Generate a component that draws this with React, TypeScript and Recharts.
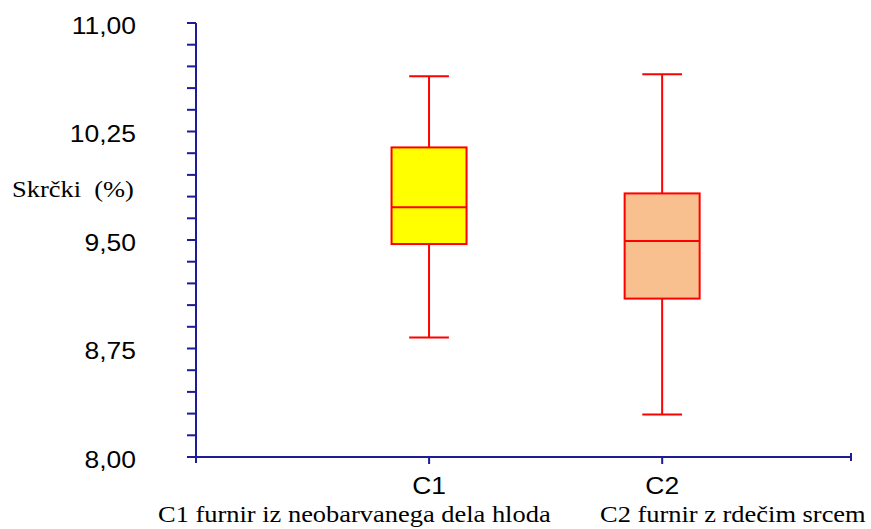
import React from 'react';
import { ComposedChart, Bar, XAxis, YAxis, Label } from 'recharts';

// ---- data ----
const categories = ['C1', 'C2'];
const positions = [1, 2];
const whiskerLow = [8.826, 8.294];
const quartile1 = [9.472, 9.095];
const medians = [9.726, 9.493];
const quartile3 = [10.14, 9.822];
const whiskerHigh = [10.632, 10.646];
const boxFills = ['#FFFF00', '#F8BF8F'];

const yTicks = [8, 8.15, 8.3, 8.45, 8.6, 8.75, 8.9, 9.05, 9.2, 9.35, 9.5, 9.65, 9.8, 9.95, 10.1, 10.25, 10.4, 10.55, 10.7, 10.85, 11];
const yLabelTicks = [8, 8.75, 9.5, 10.25, 11];
const xDomainEnd = 2.81;
const xTicks = [0, 1, 2, xDomainEnd];
const yAxisTitle = 'Skrčki  (%)';
const captions = ['C1 furnir iz neobarvanega dela hloda', 'C2 furnir z rdečim srcem'];

const data = categories.map((name, i) => ({
  name,
  pos: positions[i],
  low: whiskerLow[i],
  q1: quartile1[i],
  median: medians[i],
  q3: quartile3[i],
  high: whiskerHigh[i],
  fill: boxFills[i],
}));

// ---- styles ----
const NAVY = '#1c1c96';
const RED = '#FF0000';
const SANS = '"Liberation Sans", Arial, Helvetica, sans-serif';
const SERIF = '"Liberation Serif", "Times New Roman", serif';
const FS = 23;
const SX = 1.15;

const BoxShape = (props: any) => {
  const { x, y, width, height, payload } = props;
  const lo = payload.low;
  const hi = payload.high;
  const py = (v: number) => y + (height * (hi - v)) / (hi - lo);
  const cx = x + width / 2;
  const cap = width * 0.53;
  const top = py(payload.q3);
  const bot = py(payload.q1);
  const med = py(payload.median);
  return (
    <g>
      <line x1={cx} x2={cx} y1={py(hi)} y2={top} stroke={RED} strokeWidth={2} />
      <line x1={cx} x2={cx} y1={bot} y2={py(lo)} stroke={RED} strokeWidth={2} />
      <line x1={cx - cap / 2} x2={cx + cap / 2} y1={py(hi)} y2={py(hi)} stroke={RED} strokeWidth={2} />
      <line x1={cx - cap / 2} x2={cx + cap / 2} y1={py(lo)} y2={py(lo)} stroke={RED} strokeWidth={2} />
      <rect x={x} y={top} width={width} height={bot - top} fill={payload.fill} stroke={RED} strokeWidth={2} />
      <line x1={x} x2={x + width} y1={med} y2={med} stroke={RED} strokeWidth={2} />
    </g>
  );
};

const fmt = (v: number) => v.toFixed(2).replace('.', ',');

const YTick = (props: any) => {
  const { x, y, payload } = props;
  const v = payload.value;
  const show = yLabelTicks.some((t) => Math.abs(t - v) < 1e-6);
  if (!show) return <g />;
  return (
    <g transform={`translate(${x},${y + 10.5}) scale(${SX},1)`}>
      <text x={0} y={0} textAnchor="end" fontFamily={SANS} fontSize={FS} fill="#000">
        {fmt(v)}
      </text>
    </g>
  );
};

const XTick = (props: any) => {
  const { x, y, payload } = props;
  const v = payload.value;
  const idx = positions.indexOf(v);
  if (v === 0) {
    return <line x1={x} x2={x} y1={y} y2={y + 6} stroke={NAVY} strokeWidth={2} />;
  }
  if (idx < 0) {
    return <line x1={x} x2={x} y1={y - 4} y2={y + 4} stroke={NAVY} strokeWidth={2} />;
  }
  return (
    <g>
      <line x1={x} x2={x} y1={y} y2={y + 7} stroke={NAVY} strokeWidth={2} />
      <g transform={`translate(${x},${y + 37}) scale(${SX},1)`}>
        <text x={0} y={0} textAnchor="middle" fontFamily={SANS} fontSize={FS} fill="#000">
          {categories[idx]}
        </text>
      </g>
    </g>
  );
};

const YTitle = (props: any) => {
  const { viewBox } = props;
  return (
    <g transform={`translate(${viewBox.x + 12},${viewBox.y + 174}) scale(${SX},1)`}>
      <text x={0} y={0} fontFamily={SERIF} fontSize={FS} fill="#000" style={{ whiteSpace: 'pre' }}>
        {yAxisTitle}
      </text>
    </g>
  );
};

const Captions = (props: any) => {
  const { viewBox } = props;
  const starts = [viewBox.x - 38, viewBox.x + 404];
  return (
    <g>
      {captions.map((c, i) => (
        <g key={i} transform={`translate(${starts[i]},${viewBox.y + 65}) scale(${SX},1)`}>
          <text x={0} y={0} fontFamily={SERIF} fontSize={FS} fill="#000">
            {c}
          </text>
        </g>
      ))}
    </g>
  );
};

export default function App() {
  return (
    <div style={{ position: 'absolute', left: 0, top: 0, background: '#fff' }}>
      <ComposedChart width={871} height={529} data={data} margin={{ top: 23, right: 20, left: 0, bottom: 0 }}>
        <XAxis
          type="number"
          dataKey="pos"
          domain={[0, xDomainEnd]}
          ticks={xTicks}
          interval={0}
          height={72}
          axisLine={{ stroke: NAVY, strokeWidth: 2 }}
          tickLine={false}
          tickSize={0}
          tickMargin={0}
          tick={<XTick />}
        >
          <Label content={<Captions />} />
        </XAxis>
        <YAxis
          type="number"
          domain={[8, 11]}
          ticks={yTicks}
          interval={0}
          width={196}
          axisLine={{ stroke: NAVY, strokeWidth: 2 }}
          tickLine={{ stroke: NAVY, strokeWidth: 2 }}
          tickSize={9}
          tickMargin={51}
          tick={<YTick />}
        >
          <Label content={<YTitle />} />
        </YAxis>
        <Bar
          dataKey={(d: any) => [d.low, d.high]}
          barSize={75}
          shape={<BoxShape />}
          isAnimationActive={false}
        />
      </ComposedChart>
    </div>
  );
}
